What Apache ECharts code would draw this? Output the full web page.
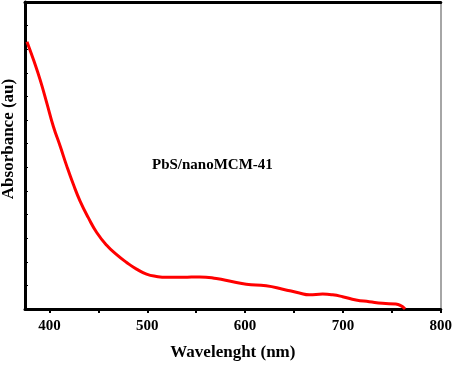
<!DOCTYPE html>
<html><head><meta charset="utf-8">
<script src="https://cdn.jsdelivr.net/npm/echarts@6/dist/echarts.min.js"></script>
<style>html,body{margin:0;padding:0;background:#fff}#c{width:455px;height:366px}</style>
</head><body><div id="c"></div>
<script>
var wavelength = [377, 383.7, 390.5, 397.3, 404, 411, 417.7, 424.5, 431.3, 439.7, 448.3, 458.5, 468.7, 478.9, 489, 499.2, 509.4, 519.6, 536.6, 553.6, 570.6, 587.5, 601.2, 621.5, 638.5, 655.5, 665.7, 679.3, 689.5, 699.7, 713.3, 726.9, 740.4, 754, 759.1, 763.5];
var absorbance = [11.32, 10.55, 9.70, 8.72, 7.73, 6.89, 6.05, 5.27, 4.57, 3.87, 3.24, 2.70, 2.30, 1.97, 1.69, 1.48, 1.38, 1.34, 1.34, 1.36, 1.29, 1.15, 1.05, 0.98, 0.84, 0.68, 0.60, 0.63, 0.60, 0.52, 0.38, 0.31, 0.24, 0.21, 0.14, 0.0];
var xTickValues = [400, 450, 500, 550, 600, 650, 700, 750, 800];
var xLabelValues = [400, 500, 600, 700, 800];
var seriesName = 'PbS/nanoMCM-41';
var xTitle = 'Wavelenght (nm)';
var yTitle = 'Absorbance (au)';

var font = '"Liberation Serif","Times New Roman",serif';
var data = wavelength.map(function(w, i){ return [w, absorbance[i]]; });
var chart = echarts.init(document.getElementById('c'), null, {renderer:'canvas'});
chart.setOption({
  animation: false,
  backgroundColor: '#fff',
  grid: {left: 25, right: 13, top: 2, bottom: 56, containLabel: false},
  xAxis: [{
    type: 'value', min: 375, max: 800, position: 'bottom',
    name: xTitle, nameLocation: 'middle', nameGap: 35,
    nameTextStyle: {fontFamily: font, fontWeight: 'bold', fontSize: 17, color: '#000'},
    axisLine: {show: true, lineStyle: {color: '#000', width: 3}},
    axisTick: {show: true, inside: false, length: 4, lineStyle: {color: '#000', width: 2}, customValues: xTickValues},
    axisLabel: {show: true, margin: 10, fontFamily: font, fontWeight: 'bold', fontSize: 15, color: '#000', customValues: xLabelValues},
    splitLine: {show: false}
  }, {
    type: 'value', min: 375, max: 800, position: 'top',
    axisLine: {show: true, onZero: false, lineStyle: {color: '#000', width: 3}},
    axisTick: {show: false}, axisLabel: {show: false}, splitLine: {show: false}
  }],
  yAxis: [{
    type: 'value', min: 0, max: 13, interval: 1, position: 'left',
    axisLine: {show: true, onZero: false, lineStyle: {color: '#000', width: 3}},
    axisTick: {show: true, inside: true, length: 3, lineStyle: {color: '#000', width: 1}},
    axisLabel: {show: false}, splitLine: {show: false}
  }, {
    type: 'value', min: 0, max: 13, position: 'right',
    axisLine: {show: true, onZero: false, lineStyle: {color: '#888', width: 1.5}},
    axisTick: {show: false}, axisLabel: {show: false}, splitLine: {show: false}
  }],
  series: [{
    name: seriesName, type: 'line', xAxisIndex: 0, yAxisIndex: 0,
    data: data, smooth: 0.5, symbol: 'none',
    lineStyle: {color: '#ff0000', width: 3}
  }],
  graphic: [{
    type: 'text', left: 152, top: 158,
    style: {text: seriesName, font: 'bold 15px ' + font, fill: '#000'}
  }, {
    type: 'text', x: 9, y: 139, rotation: Math.PI/2,
    style: {text: yTitle, font: 'bold 17px ' + font, fill: '#000', align: 'center', verticalAlign: 'middle'}
  }]
});
</script></body></html>
